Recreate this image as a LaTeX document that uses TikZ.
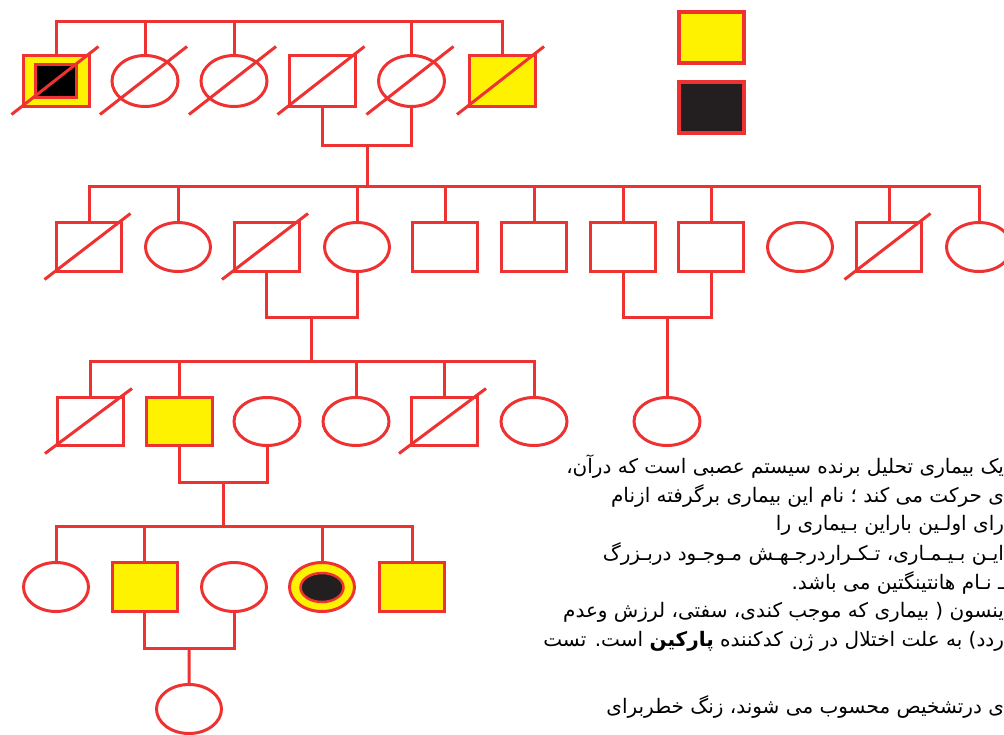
\documentclass[tikz,border=0pt]{standalone}
\usepackage{fontspec}
\newfontfamily\arabicfont[Script=Arabic]{DejaVu Sans}
\TeXXeTstate=1
\usetikzlibrary{shapes.geometric,calc}
\definecolor{pedred}{RGB}{238,50,50}
\definecolor{pedyellow}{RGB}{255,242,0}
\definecolor{peddark}{RGB}{35,31,32}

\begin{document}
\begin{tikzpicture}[x=1pt,y=-1pt,line width=3pt,line join=miter,
  every node/.style={inner sep=0pt,outer sep=0pt},
  male/.style={rectangle,draw=pedred,fill=white},
  female/.style={ellipse,draw=pedred,fill=white},
  affected/.style={fill=pedyellow},
  genA/.style={minimum width=66pt,minimum height=51pt},
  genB/.style={minimum width=65pt,minimum height=49pt},
  genC/.style={minimum width=66pt,minimum height=48pt},
  link/.style={draw=pedred},
  cross/.style={draw=pedred,line cap=butt},
  keybox/.style={rectangle,draw=pedred,line width=4pt,minimum width=65pt,minimum height=51pt},
  story/.style={anchor=east,font=\arabicfont\fontsize{20}{24}\selectfont,text=black}
]
\useasboundingbox (0,0) rectangle (1004,734);

% deceased mark: a slash through the box of the symbol
\newcommand{\slashed}[1]{\draw[cross] ($(#1.west |- #1.south)+(-12,8)$) -- ($(#1.east |- #1.north)+(9,-9)$);}

% ---------- generation I ----------
\node[male,genA,affected] (a1) at (56.5,81) {};
\node[rectangle,draw=pedred,fill=black,minimum width=41pt,minimum height=33pt] (a1in) at (55.5,81) {};
\node[female,genA] (a2) at (145,81) {};
\node[female,genA] (a3) at (234,81) {};
\node[male,genA] (a4) at (322.5,81) {};
\node[female,genA] (a5) at (411.5,81) {};
\node[male,genA,affected] (a6) at (502,81) {};
\foreach \n in {a1,a2,a3,a4,a5,a6} {\slashed{\n}}

\coordinate (s1) at (0,21);
\draw[link] (a1.north) -- (a1.north |- s1) -- (a6.north |- s1) -- (a6.north);
\foreach \n in {a2,a3,a5} {\draw[link] (\n.north) -- (\n.north |- s1);}
\coordinate (m1) at (0,145);
\draw[link] (a4.south) -- (a4.south |- m1) -- (a5.south |- m1) -- (a5.south);
\coordinate (k1) at ($(a4.south |- m1)!0.5!(a5.south |- m1)$);

% ---------- generation II ----------
\node[male,genB] (b1) at (89,247) {};
\node[female,genB] (b2) at (178,247) {};
\node[male,genB] (b3) at (266.5,247) {};
\node[female,genB] (b4) at (357,247) {};
\node[male,genB] (b5) at (445,247) {};
\node[male,genB] (b6) at (534,247) {};
\node[male,genB] (b7) at (623,247) {};
\node[male,genB] (b8) at (711,247) {};
\node[female,genB] (b9) at (800,247) {};
\node[male,genB] (b10) at (889,247) {};
\node[female,genB] (b11) at (979,247) {};
\foreach \n in {b1,b3,b10} {\slashed{\n}}

\coordinate (s2) at (0,186);
\draw[link] (k1) -- (k1 |- s2);
\draw[link] (b1.north) -- (b1.north |- s2) -- (b11.north |- s2) -- (b11.north);
\foreach \n in {b2,b4,b5,b6,b7,b8,b10} {\draw[link] (\n.north) -- (\n.north |- s2);}
\coordinate (m2) at (0,317);
\draw[link] (b3.south) -- (b3.south |- m2) -- (b4.south |- m2) -- (b4.south);
\draw[link] (b7.south) -- (b7.south |- m2) -- (b8.south |- m2) -- (b8.south);
\coordinate (k2) at ($(b3.south |- m2)!0.5!(b4.south |- m2)$);
\coordinate (k3) at ($(b7.south |- m2)!0.5!(b8.south |- m2)$);

% ---------- generation III ----------
\node[male,genC] (c1) at (90,421.5) {};
\node[male,genC,affected] (c2) at (179,421.5) {};
\node[female,genC] (c3) at (267,421.5) {};
\node[female,genC] (c4) at (356,421.5) {};
\node[male,genC] (c5) at (444,421.5) {};
\node[female,genC] (c6) at (534,421.5) {};
\node[female,genC] (c7) at (667,421.5) {};
\foreach \n in {c1,c5} {\slashed{\n}}

\coordinate (s3) at (0,361);
\draw[link] (k2) -- (k2 |- s3);
\draw[link] (c1.north) -- (c1.north |- s3) -- (c6.north |- s3) -- (c6.north);
\foreach \n in {c2,c4,c5} {\draw[link] (\n.north) -- (\n.north |- s3);}
\draw[link] (k3) -- (k3 -| c7.north) -- (c7.north);
\coordinate (m3) at (0,482);
\draw[link] (c2.south) -- (c2.south |- m3) -- (c3.south |- m3) -- (c3.south);
\coordinate (k4) at ($(c2.south |- m3)!0.5!(c3.south |- m3)$);

% ---------- generation IV ----------
\node[female,genB] (d1) at (56,587) {};
\node[male,genB,affected] (d2) at (144.5,587) {};
\node[female,genB] (d3) at (234,587) {};
\node[female,genB,affected] (d4) at (322,587) {};
\node[ellipse,draw=pedred,line width=2.5pt,fill=peddark,minimum width=43pt,minimum height=29pt] (d4in) at (322,587.5) {};
\node[male,genB,affected] (d5) at (412,587) {};

\coordinate (s4) at (0,526);
\draw[link] (k4) -- (k4 |- s4);
\draw[link] (d1.north) -- (d1.north |- s4) -- (d5.north |- s4) -- (d5.north);
\foreach \n in {d2,d4} {\draw[link] (\n.north) -- (\n.north |- s4);}
\coordinate (m4) at (0,648);
\draw[link] (d2.south) -- (d2.south |- m4) -- (d3.south |- m4) -- (d3.south);
\coordinate (k5) at ($(d2.south |- m4)!0.5!(d3.south |- m4)$);

% ---------- generation V ----------
\node[female,genB] (e1) at (189,709) {};
\draw[link] (k5) -- (e1.north);

% ---------- key ----------
\node[keybox,fill=pedyellow] (key1) at (711.5,37.5) {};
\node[keybox,fill=peddark] (key2) at (711.5,107.5) {};

% ---------- text ----------
\node[story] (t1) at (1004,467) {\beginR یک بیماری تحلیل برنده سیستم عصبی است که درآن،\endR};
\node[story] (t2) at (1004,496) {\beginR ی حرکت می کند ؛ نام این بیماری برگرفته ازنام\endR};
\node[story] (t3) at (1004,525) {\beginR رای اولـین باراین بـیماری را\endR};
\node[story] (t4) at (1004,554) {\beginR ایـن بـیـمـاری، تـکـراردرجـهـش مـوجـود دربـزرگ\endR};
\node[story] (t5) at (1004,583) {\beginR ـ نـام هانتینگتین می باشد.\endR};
\node[story] (t6) at (1004,612) {\beginR ینسون ( بیماری که موجب کندی، سفتی، لرزش وعدم\endR};
\node[story] (t7) at (1004,641) {\beginR ردد) به علت اختلال در ژن کدکننده {\bfseries پارکین} است. تست\endR};
\node[story] (t9) at (1004,707) {\beginR ی درتشخیص محسوب می شوند، زنگ خطربرای\endR};
\end{tikzpicture}
\end{document}
